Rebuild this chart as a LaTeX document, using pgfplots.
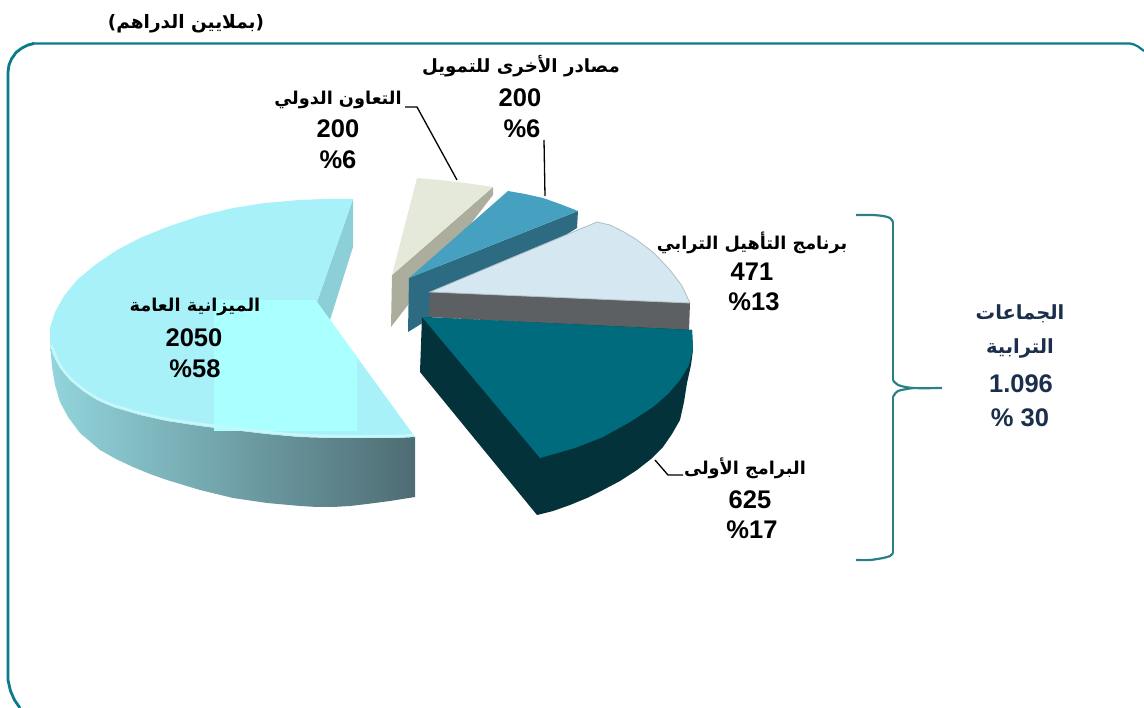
\documentclass[border=0pt]{standalone}
\usepackage{pgfplots}
\pgfplotsset{compat=1.18}
\usepackage{fontspec}
\setmainfont{Liberation Sans}
\newfontfamily\arabicfont[Script=Arabic]{DejaVu Sans}
\TeXXeTstate=1
\definecolor{frameC}{HTML}{0A7B88}
\definecolor{braceC}{HTML}{2B7F88}
\definecolor{navyC}{HTML}{1B2F4C}
\newcommand{\arf}[1][17.7]{\fontsize{#1}{#1}\selectfont\arabicfont\bfseries}
\newcommand{\nm}[1]{{\fontsize{25.5}{25.5}\selectfont\bfseries #1}}
\begin{document}
\begin{tikzpicture}
\begin{axis}[width=1144pt,height=708pt,scale only axis,hide axis,
  xmin=0,xmax=1144,ymin=0,ymax=708,y dir=reverse,clip=true]
% frame
\addplot[color=frameC,line width=2.8pt,line join=round] coordinates {(20,708)(14.5,700)(10.5,691)(8,680)(8,72)(9,65)(11.5,59)(16,52.5)(22,48)(28,45)(34,43.5)};
\addplot[color=frameC,line width=2.2pt,line join=round] coordinates {(32,43.5)(1130,43.5)(1134,44.5)(1138,46.5)(1144,51)};
% main slice: notch side
\addplot[draw=none,fill={rgb,255:red,140;green,207;blue,214}] coordinates {(353,199)(353,247)(330,320)(317,302)} -- cycle;
% main slice: outer wall
\addplot[draw=none,left color={rgb,255:red,146;green,213;blue,220},right color={rgb,255:red,78;green,108;blue,115}] coordinates {
(50,342)(53,355)(60,368)(70,380)(83,391)(97,400)(113,407)(140,415)(167,421)(200,426)(233,430)(267,434)(300,437)(335,438)(367,438)(395,438)(415,437)
(415,497)(390,501)(367,504)(350,506)(333,507)(317,507)(300,506)(267,503)(233,498)(200,490)(167,480)(150,474)(133,467)(116,459)(100,450)(80,433)(68,417)(60,402)(55,385)(52,367)} -- cycle;
% main slice: top face
\addplot[draw=none,fill={rgb,255:red,168;green,241;blue,249}] coordinates {
(353,199)(325,199)(300,200)(265,203)(233,208)(200,216)(167,227)(140,238)(117,250)(95,265)(77,280)(64,296)(55,312)(50,328)(50,342)(53,355)(60,368)(70,380)(83,391)(97,400)(113,407)(140,415)(167,421)(200,426)(233,430)(267,434)(300,437)(335,438)(367,438)(395,438)(415,437)
(330,320)(317,302)} -- cycle;
% brighter patch on the main slice
\addplot[draw=none,fill={rgb,255:red,170;green,255;blue,255}] coordinates {(214,300)(315.5,300)(317,302)(330,320)(357,357)(357,431)(300,431)(214,431)} -- cycle;
% rim highlight
\addplot[color={rgb,255:red,200;green,247;blue,250},line width=2.5pt,smooth] coordinates {(51,345)(60,365)(70,378)(83,389)(97,398)(113,405)(140,413)(167,419)(200,424)(233,428)(267,432)(300,435)(335,436)(367,436)(395,436)(413,435)};
% beige slice
\addplot[draw=none,fill={rgb,255:red,173;green,173;blue,157}] coordinates {(493,187)(493,195)(391,327)(392,275)} -- cycle;
\addplot[draw=none,fill={rgb,255:red,228;green,233;blue,217}] coordinates {(417,178)(440,180)(465,183)(493,187)(392,275)} -- cycle;
% blue slice
\addplot[draw=none,fill={rgb,255:red,44;green,107;blue,130}] coordinates {(578,211)(577,228)(408,332)(409,278)} -- cycle;
\addplot[draw=none,fill={rgb,255:red,70;green,160;blue,192}] coordinates {(508,191)(525,194)(543,198)(560,204)(578,211)(409,278)} -- cycle;
% light slice
\addplot[draw=none,fill={rgb,255:red,92;green,96;blue,99}] coordinates {(430,292)(690,303)(689,331)(429,317)} -- cycle;
\addplot[draw={rgb,255:red,175;green,190;blue,195},line width=0.8pt,fill={rgb,255:red,213;green,231;blue,240}] coordinates {(430,292)(597,222)(610,225)(624,232)(637,240)(654,253)(670,270)(682,286)(690,303)} -- cycle;
% teal slice: walls
\addplot[draw=none,fill={rgb,255:red,3;green,50;blue,58}] coordinates {(422,317)(420,372)(537,515)(553,511)(570,505)(587,498)(603,490)(620,481)(637,470)(651,459)(663,447)(672,434)(680,420)(684,402)(687,383)(691,365)(693,350)(692,330)} -- cycle;
% teal slice: top
\addplot[draw=none,fill={rgb,255:red,0;green,107;blue,124}] coordinates {(422,317)(692,330)(693,350)(689,365)(680,380)(668,394)(653,407)(630,422)(603,437)(575,448)(540,458)} -- cycle;
% leaders
\addplot[color=black,line width=1.3pt] coordinates {(405,107)(417,107)(457,180)};
\addplot[color=black,line width=1.3pt] coordinates {(544,140)(545,196)};
\addplot[color=black,line width=1.3pt] coordinates {(655,460)(668,475)(683,475)};
% brace
\addplot[color=braceC,line width=2.2pt,smooth] coordinates {(856,215)(872,215)(883,216)(890,218)(893,222)};
\addplot[color=braceC,line width=2.2pt] coordinates {(893,222)(893,380)};
\addplot[color=braceC,line width=2.2pt,smooth] coordinates {(893,380)(898,385)(913,388)(942,388)};
\addplot[color=braceC,line width=2.2pt,smooth] coordinates {(913,388)(898,391)(893,397)};
\addplot[color=braceC,line width=2.2pt] coordinates {(893,397)(893,553)};
\addplot[color=braceC,line width=2.2pt,smooth] coordinates {(893,553)(890,556)(883,558)(870,560)(856,560)};
% labels
\node at (axis cs:186,24) {\arf[18.5]\beginR (بملايين الدراهم)\endR};
\node at (axis cs:521,66) {\arf[18.2]\beginR مصادر الأخرى للتمويل\endR};
\node at (axis cs:520,98) {\nm{200}};
\node at (axis cs:522,129) {\nm{\%6}};
\node at (axis cs:338,100) {\arf\beginR التعاون الدولي\endR};
\node at (axis cs:338,129) {\nm{200}};
\node at (axis cs:338,160) {\nm{\%6}};
\node at (axis cs:752,243) {\arf\beginR برنامج التأهيل الترابي\endR};
\node at (axis cs:752,272) {\nm{471}};
\node at (axis cs:754,302) {\nm{\%13}};
\node at (axis cs:195,307) {\arf\beginR الميزانية العامة\endR};
\node at (axis cs:194,338) {\nm{2050}};
\node at (axis cs:195,369) {\nm{\%58}};
\node at (axis cs:745,468) {\arf\beginR البرامج الأولى\endR};
\node at (axis cs:750,500) {\nm{625}};
\node at (axis cs:752,530) {\nm{\%17}};
\node[text=navyC] at (axis cs:1020,314) {\arf[19.5]\beginR الجماعات\endR};
\node[text=navyC] at (axis cs:1020,348) {\arf[19.5]\beginR الترابية\endR};
\node[text=navyC] at (axis cs:1021,384) {\nm{1.096}};
\node[text=navyC] at (axis cs:1020,418) {\nm{\% 30}};
\useasboundingbox (axis cs:0,0) rectangle (axis cs:1144,708);
\end{axis}
\end{tikzpicture}
\end{document}
